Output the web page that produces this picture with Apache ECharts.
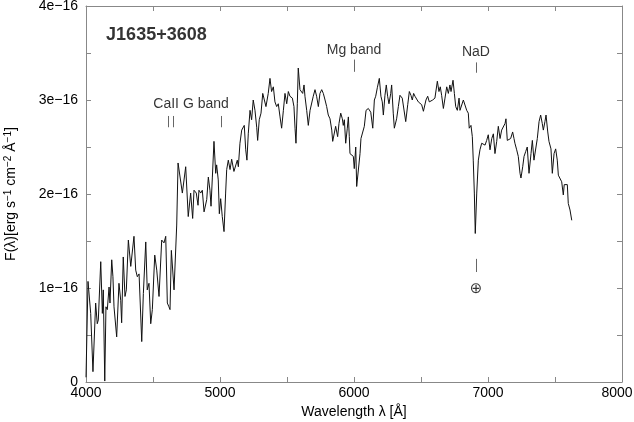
<!DOCTYPE html>
<html><head><meta charset="utf-8">
<script src="https://cdn.jsdelivr.net/npm/echarts@6.0.0/dist/echarts.min.js"></script>
<style>html,body{margin:0;padding:0;background:#fff}#c{width:634px;height:422px}</style>
</head><body><div id="c"></div><script>
// Wavelength in Angstrom
const wavelength = [4000,4015,4035,4052,4072,4084,4092,4110,4122,4129,4140,4149,4159,4172,4179,4192,4201,4209,4229,4246,4259,4266,4278,4291,4301,4316,4334,4358,4371,4383,4396,4416,4428,4446,4457,4470,4483,4495,4513,4528,4545,4565,4582,4595,4607,4619,4627,4637,4657,4677,4687,4719,4744,4763,4781,4796,4806,4823,4836,4843,4856,4868,4881,4888,4901,4913,4925,4933,4943,4955,4968,4975,4987,4995,5005,5017,5030,5042,5050,5062,5075,5087,5104,5117,5129,5137,5149,5162,5174,5181,5192,5201,5211,5224,5236,5248,5261,5274,5281,5293,5306,5319,5331,5343,5360,5373,5385,5398,5410,5423,5435,5448,5460,5473,5485,5498,5510,5522,5540,5552,5560,5567,5577,5584,5597,5610,5617,5627,5634,5647,5659,5672,5684,5696,5709,5721,5734,5746,5759,5771,5784,5796,5808,5821,5834,5841,5853,5863,5878,5888,5901,5913,5920,5928,5938,5950,5958,5965,5970,5983,5995,6002,6013,6020,6032,6045,6052,6065,6077,6090,6107,6125,6140,6152,6162,6174,6189,6201,6211,6219,6231,6241,6251,6261,6274,6281,6293,6301,6318,6331,6343,6360,6373,6386,6401,6413,6425,6435,6445,6455,6468,6480,6493,6505,6518,6525,6537,6550,6562,6575,6587,6604,6622,6634,6644,6654,6667,6679,6692,6704,6716,6724,6739,6749,6759,6771,6784,6791,6804,6816,6828,6841,6853,6860,6873,6883,6890,6898,6905,6916,6928,6940,6953,6965,6978,6990,7002,7015,7028,7040,7052,7065,7077,7090,7102,7114,7127,7134,7144,7157,7169,7184,7194,7201,7214,7226,7239,7246,7259,7269,7281,7293,7306,7321,7331,7343,7356,7368,7381,7393,7405,7413,7425,7433,7446,7455,7470,7480,7493,7505,7517,7525,7537,7550,7562,7569,7582,7592,7599,7612,7625];
// Flux in units of 1e-16 erg s^-1 cm^-2 A^-1
const flux = [0.05,1.07,0.73,0.11,0.84,0.62,0.66,1.28,0.73,0.98,0.01,0.80,0.77,1.01,0.84,1.30,1.12,0.80,0.48,1.05,0.87,0.63,1.33,0.91,0.98,1.51,1.23,1.55,1.19,1.12,1.15,0.43,0.94,1.49,0.98,1.05,0.62,0.77,1.35,1.19,0.91,1.51,1.48,1.55,0.84,0.80,0.77,1.40,0.98,1.67,2.33,2.01,2.29,1.76,2.01,1.74,2.04,2.01,1.88,2.04,2.01,2.04,1.81,1.79,1.94,2.18,2.04,1.87,2.18,2.56,2.22,2.31,2.15,1.79,1.95,1.76,1.60,2.01,2.26,2.36,2.26,2.37,2.24,2.26,2.36,2.29,2.54,2.68,2.66,2.73,2.47,2.36,2.64,2.89,2.79,3.00,2.89,2.71,2.57,2.79,2.86,3.07,3.00,2.93,3.07,3.23,3.09,3.14,2.98,2.93,2.96,2.82,2.70,2.89,3.07,2.96,3.09,3.04,3.02,2.93,2.70,2.54,2.96,3.34,3.11,3.11,3.07,3.16,3.04,2.89,2.73,2.89,2.91,3.04,3.11,3.04,2.93,3.07,3.11,3.07,3.00,2.93,2.84,2.80,2.68,2.56,2.57,2.72,2.61,2.75,2.86,2.80,2.73,2.79,2.54,2.70,2.82,2.61,2.43,2.41,2.40,2.27,2.50,2.08,2.08,2.43,2.59,2.61,2.72,2.89,2.91,2.87,2.70,3.00,3.04,3.13,3.23,3.04,2.98,2.84,3.05,3.16,3.04,2.96,3.07,3.16,2.86,2.70,2.80,2.93,3.05,3.02,3.00,2.77,2.95,3.09,3.05,3.00,3.07,3.04,3.02,2.98,3.00,2.95,2.88,2.86,3.00,3.04,2.98,2.98,3.00,3.02,3.20,3.09,3.14,3.05,2.91,3.02,3.14,3.07,3.16,3.09,3.21,3.07,2.93,2.89,3.02,2.89,2.89,3.00,2.98,2.89,2.86,2.70,2.73,2.61,2.36,2.01,1.58,2.01,2.36,2.47,2.54,2.54,2.52,2.57,2.63,2.47,2.59,2.64,2.43,2.56,2.72,2.59,2.68,2.66,2.75,2.80,2.57,2.57,2.59,2.66,2.59,2.54,2.47,2.40,2.22,2.17,2.29,2.40,2.45,2.50,2.22,2.43,2.57,2.36,2.36,2.59,2.77,2.84,2.75,2.68,2.77,2.84,2.66,2.56,2.48,2.22,2.43,2.48,2.36,2.20,2.18,2.13,1.99,2.10,2.11,2.10,1.90,1.83,1.72];

const xTickValues = [4000,5000,6000,7000,8000];
const yTickValues = [0,1,2,3,4];

// feature marker ticks: wavelength, flux from, flux to
const tickLambda = [4612,4649,5007,6000,6910,6910];
const tickFrom   = [2.71,2.71,2.71,3.30,3.29,1.17];
const tickTo     = [2.83,2.83,2.83,3.43,3.40,1.31];

// labels
const labelText   = ['CaII G band','Mg band','NaD','\u2295'];
const labelLambda = [4784,6000,6910,6910];
const labelFlux   = [2.96,3.53,3.51,0.99];

const titleText = 'J1635+3608';
const titleLambda = 4150, titleFlux = 3.69;

const FONT = '"Liberation Sans", Arial, Helvetica, sans-serif';
const chart = echarts.init(document.getElementById('c'), null, {renderer:'canvas'});

const axisCol = '#888';
function xAx(pos, labels){
  return {type:'value', min:4000, max:8000, interval:1000, position:pos,
    axisLine:{show:true, onZero:false, lineStyle:{color:axisCol, width:1}},
    axisTick:{show:true, inside:true, length:5, lineStyle:{color:axisCol}},
    minorTick:{show:true, splitNumber:2, length:5, lineStyle:{color:axisCol}},
    splitLine:{show:false}, minorSplitLine:{show:false},
    axisLabel:{show:labels, color:'#000', fontSize:14, fontFamily:FONT, margin:4, showMinLabel:true, showMaxLabel:true,
      formatter: v => v === 8000 ? '{m|' + v + '}' : String(v),
      rich:{m:{fontSize:14, fontFamily:FONT, color:'#000', padding:[0,10,0,0]}}},
    name: labels ? 'Wavelength \u03bb [\u00c5]' : '', nameLocation:'middle', nameGap:22,
    nameTextStyle:{color:'#000', fontSize:14, fontFamily:FONT}
  };
}
function yAx(pos, labels){
  return {type:'value', min:0, max:4, interval:1, position:pos,
    axisLine:{show:true, onZero:false, lineStyle:{color:axisCol, width:1}},
    axisTick:{show:true, inside:true, length:5, lineStyle:{color:axisCol}},
    minorTick:{show:true, splitNumber:2, length:5, lineStyle:{color:axisCol}},
    splitLine:{show:false}, minorSplitLine:{show:false},
    axisLabel:{show:labels, color:'#000', fontSize:14, fontFamily:FONT, margin:8,
      formatter: v => v === 0 ? '0' : v + 'e\u221216'},
    name: labels ? '{n|F(\u03bb)[erg s}{s|\u22121}{n| cm}{s|\u22122}{n| \u00c5}{s|\u22121}{n|]}' : '',
    nameLocation:'middle', nameGap:66, nameRotate:90,
    nameTextStyle:{color:'#000', fontFamily:FONT,
      rich:{n:{fontSize:14, fontFamily:FONT, color:'#000', lineHeight:17}, s:{fontSize:10, fontFamily:FONT, color:'#000', verticalAlign:'top', lineHeight:17}}}
  };
}

const spec = wavelength.map((w,i)=>[w, flux[i]]);
const markData = tickLambda.map((w,i)=>[{coord:[w, tickFrom[i]]},{coord:[w, tickTo[i]]}]);

const labelsData = labelText.map((t,i)=>({
  value:[labelLambda[i], labelFlux[i]],
  label:{show:true, formatter:t, position:'inside', align:'center', verticalAlign:'middle',
    color:'#000', fontSize: t === '\u2295' ? 15 : 14,
    fontFamily: t === '\u2295' ? '"DejaVu Sans", sans-serif' : FONT}
}));
labelsData.push({value:[titleLambda, titleFlux],
  label:{show:true, formatter:titleText, position:'inside', align:'left', verticalAlign:'middle',
    color:'#000', fontSize:18, fontWeight:'bold', fontFamily:FONT}});

chart.setOption({
  animation:false,
  backgroundColor:'#fff',
  grid:{left:86, right:12, top:6, bottom:40, containLabel:false, outerBoundsMode:'none'},
  xAxis:[xAx('bottom', true), xAx('top', false)],
  yAxis:[yAx('left', true), yAx('right', false)],
  series:[
    {type:'line', xAxisIndex:0, yAxisIndex:0, data:spec, showSymbol:false, symbol:'none',
      lineStyle:{color:'#111', width:1}, z:3,
      markLine:{silent:true, symbol:['none','none'], label:{show:false},
        lineStyle:{color:'#666', width:1, type:'solid'}, data:markData}},
    {type:'scatter', xAxisIndex:0, yAxisIndex:0, symbolSize:0, data:labelsData, silent:true, z:5}
  ]
});
</script></body></html>
